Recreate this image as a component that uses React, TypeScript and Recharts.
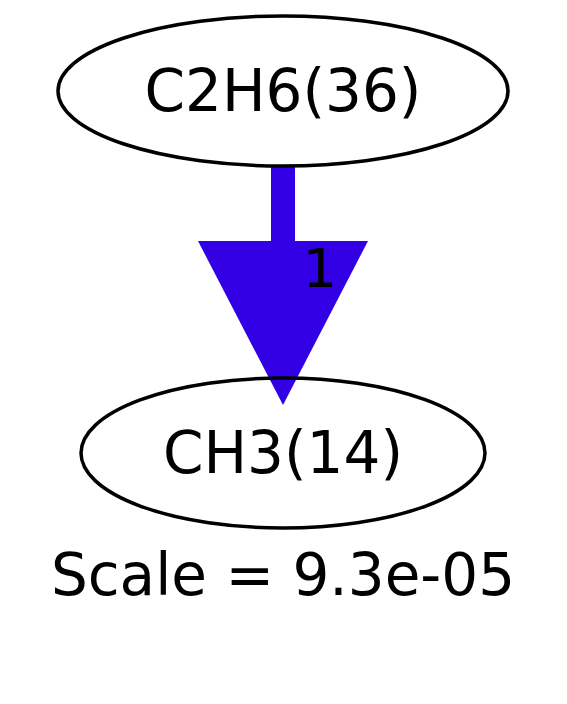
import React from 'react';
import { ScatterChart, Scatter, XAxis, YAxis, ReferenceLine } from 'recharts';

const nodes = [
  { label: 'C2H6(36)', x: 283, y: 91, rx: 225, ry: 75 },
  { label: 'CH3(14)', x: 283, y: 453, rx: 202, ry: 75 },
];
const edgeStart = { x: 283, y: 166 };
const arrowBase = [{ x: 283, y: 241, label: '1' }];
const captions = [{ x: 283, y: 575, text: 'Scale = 9.3e-05' }];
const EDGE_COLOR = '#3300e6';
const FONT = 'DejaVu Sans, sans-serif';

const NodeShape = (p: any) => (
  <g>
    <ellipse cx={p.cx} cy={p.cy} rx={p.payload.rx} ry={p.payload.ry} fill="none" stroke="#000" strokeWidth={3.5} />
    <text x={p.cx} y={p.cy} textAnchor="middle" dominantBaseline="central" fontFamily={FONT} fontSize={58} fill="#000">
      {p.payload.label}
    </text>
  </g>
);

const ArrowShape = (p: any) => (
  <g>
    <polygon points={`${p.cx - 85},${p.cy} ${p.cx + 85},${p.cy} ${p.cx},${p.cy + 164}`} fill={EDGE_COLOR} />
    <text x={p.cx + 37} y={p.cy + 27} textAnchor="middle" dominantBaseline="central" fontFamily={FONT} fontSize={54} fill="#000">
      {p.payload.label}
    </text>
  </g>
);

const CaptionShape = (p: any) => (
  <text x={p.cx} y={p.cy} textAnchor="middle" dominantBaseline="central" fontFamily={FONT} fontSize={58} fill="#000">
    {p.payload.text}
  </text>
);

export default function App() {
  return (
    <div style={{ position: 'absolute', left: 0, top: 0, width: 567, height: 704, background: '#fff' }}>
      <ScatterChart width={567} height={704} margin={{ top: 0, right: 0, bottom: 0, left: 0 }}>
        <XAxis type="number" dataKey="x" domain={[0, 567]} hide />
        <YAxis type="number" dataKey="y" domain={[0, 704]} reversed hide />
        <ReferenceLine
          segment={[{ x: edgeStart.x, y: edgeStart.y }, { x: arrowBase[0].x, y: arrowBase[0].y }]}
          stroke={EDGE_COLOR}
          strokeWidth={24}
        />
        <Scatter data={arrowBase} shape={ArrowShape} isAnimationActive={false} />
        <Scatter data={nodes} shape={NodeShape} isAnimationActive={false} />
        <Scatter data={captions} shape={CaptionShape} isAnimationActive={false} />
      </ScatterChart>
    </div>
  );
}
